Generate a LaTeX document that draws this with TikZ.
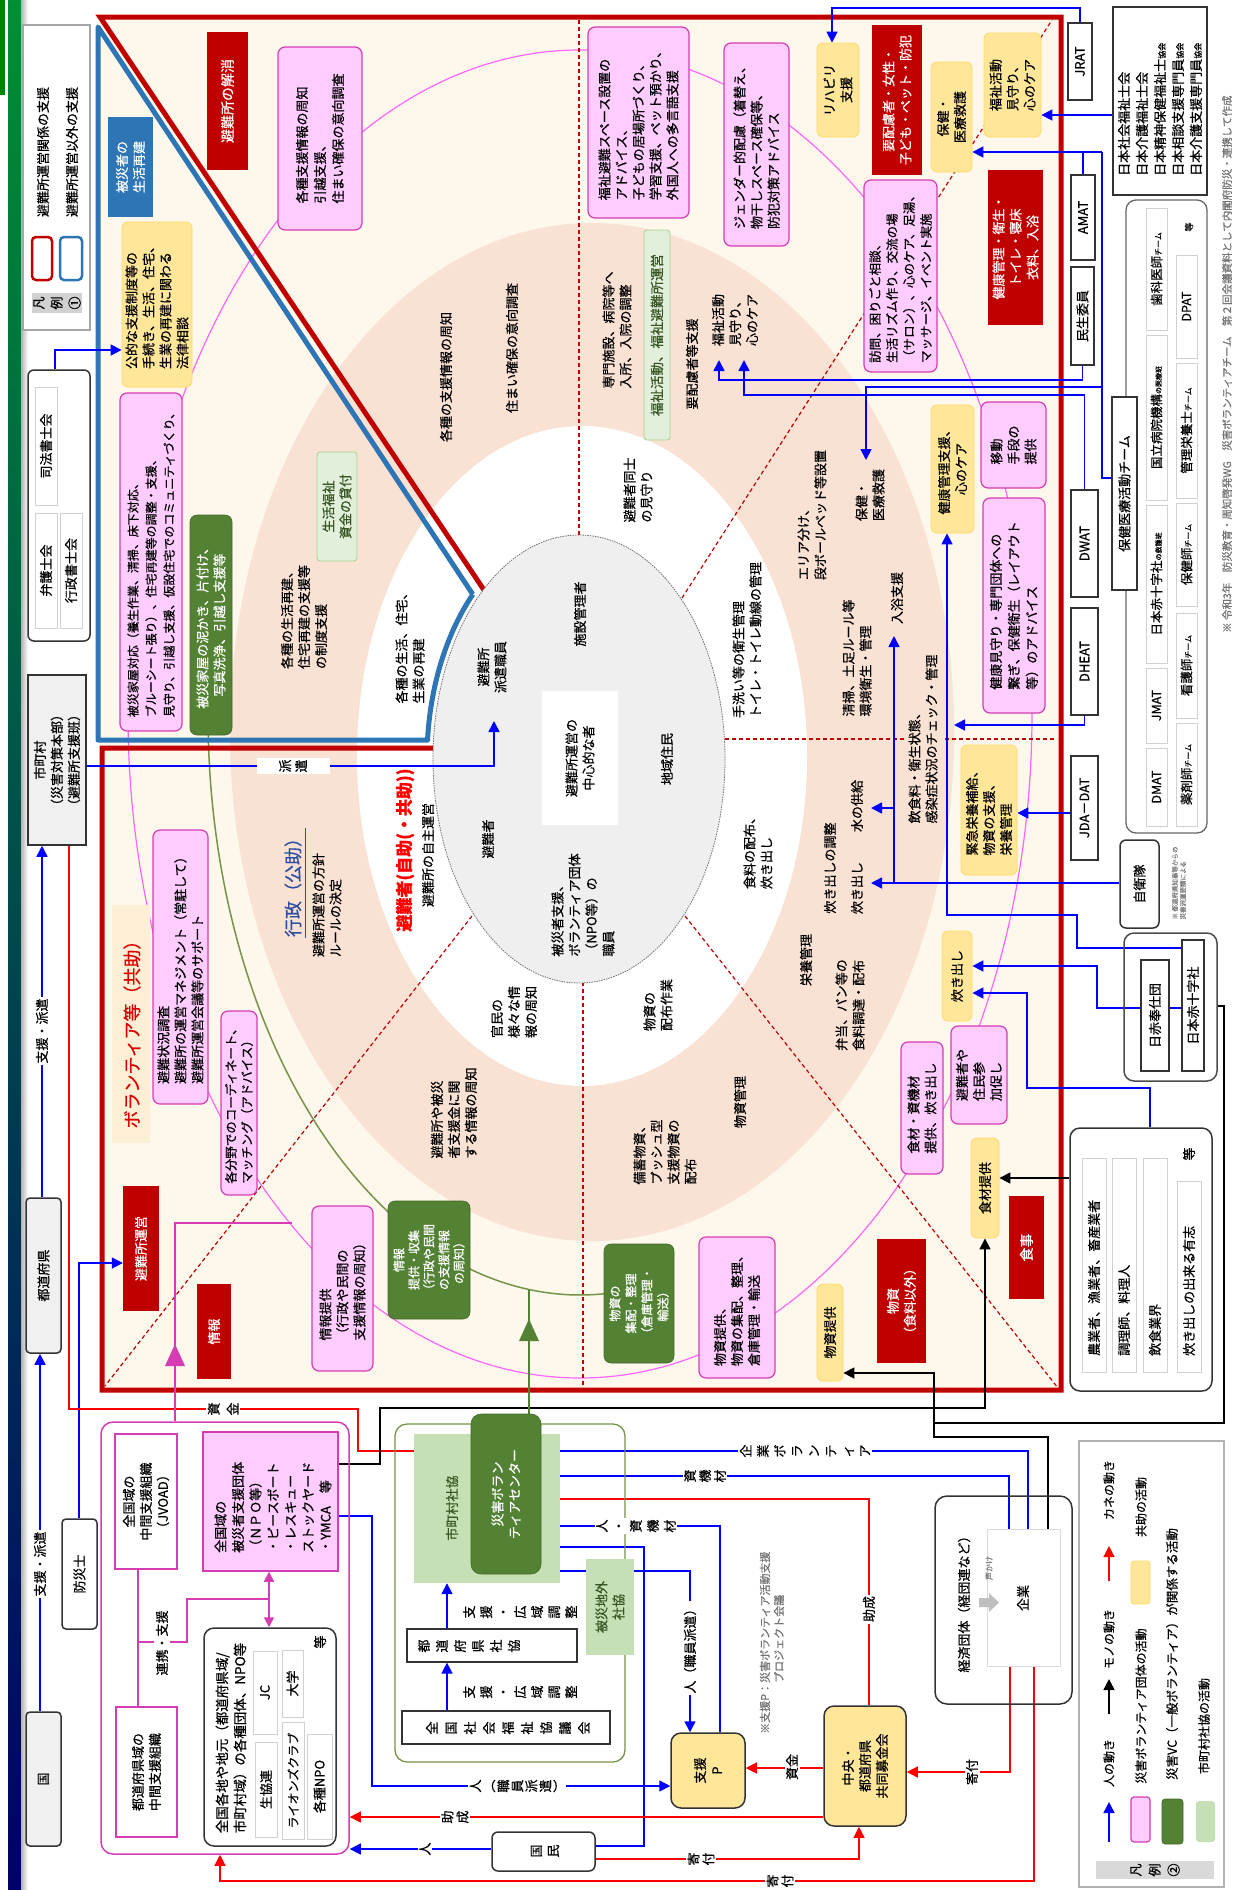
\documentclass[tikz,border=0pt]{standalone}
\usepackage{fontspec}
\setmainfont{Noto Sans CJK JP}[FakeBold=0.6]
\usetikzlibrary{arrows.meta}
\pgfdeclarelayer{bg}
\pgfdeclarelayer{conn}
\pgfsetlayers{bg,conn,main}
\definecolor{cRed}{HTML}{C00000}
\definecolor{cBlue}{HTML}{2E75B6}
\definecolor{cCream}{HTML}{FEF7EB}
\definecolor{cPeach}{HTML}{F9E2D4}
\definecolor{cGrayE}{HTML}{EFEFEF}
\definecolor{cPink}{HTML}{FFCCFF}
\definecolor{cMag}{HTML}{D63CB4}
\definecolor{cYel}{HTML}{FFE699}
\definecolor{cYelD}{HTML}{FFD966}
\definecolor{cDG}{HTML}{548235}
\definecolor{cLG}{HTML}{C5E0B4}
\definecolor{cLGb}{HTML}{E2EFDA}
\definecolor{cLGd}{HTML}{A9D18E}
\definecolor{cDGT}{HTML}{375623}
\definecolor{cPinkLine}{HTML}{FF66FF}
\definecolor{cOlive}{HTML}{76934A}
\definecolor{cGov}{HTML}{2F4FA0}
\definecolor{cLabel}{HTML}{FCEFD6}
\newcommand\fsz[2]{\fontsize{#1}{#2}\selectfont}
% box given by its left, top, right, bottom edges (picture is drawn with text turned by 90 degrees)
\newcommand\bx[7]{\node[#6,minimum width={((#5)-(#3))*1pt},minimum height={((#4)-(#2))*1pt}] (#1) at ({((#2)+(#4))/2},{((#3)+(#5))/2}) {#7};}
\begin{document}
\begin{tikzpicture}[x=1pt,y=-1pt,
  every node/.style={rotate=90,inner sep=0pt,align=center,font=\fsz{13}{17}},
  pinkbox/.style={fill=cPink,draw=cMag,line width=1.2pt,rounded corners=7pt},
  ybox/.style={fill=cYel,draw=cYelD,line width=0.8pt,rounded corners=6pt},
  redbox/.style={fill=cRed,text=white},
  gbox/.style={fill=cDG,draw=cDG!80!black,line width=0.6pt,text=white,rounded corners=7pt},
  lgbox/.style={fill=cLGb,draw=cLGd,line width=0.8pt,rounded corners=3pt,text=cDGT},
  tbox/.style={fill=white,draw=black!80,line width=1.5pt},
  sbox/.style={fill=white,draw=black!18,line width=0.8pt},
  grp/.style={draw=black!80,line width=1.5pt,rounded corners=10pt},
  lab/.style={fill=white,inner sep=1.5pt},
  bl/.style={draw=blue,line width=1.6pt,-{Triangle[length=11pt,width=11pt]}},
  bln/.style={draw=blue,line width=1.6pt},
  rd/.style={draw=red,line width=1.3pt,-{Triangle[length=11pt,width=11pt]}},
  bk/.style={draw=black,line width=1.5pt,-{Triangle[length=11pt,width=11pt]}},
  bkn/.style={draw=black,line width=1.5pt},
  rdash/.style={draw=cRed,line width=1.2pt,dash pattern=on 4pt off 3pt},
]
\useasboundingbox (0,0) rectangle (1235,1890);

%================ background layer: strip, frame, rings ================
\begin{pgfonlayer}{bg}
\fill[white] (0,0) rectangle (1235,1890);
\shade[top color=green!45!black!80!cyan, middle color=cBlue!30!white, bottom color=blue!40!black] (8,0) rectangle (21,1890);
\shade[left color=black!30, right color=white] (21,0) rectangle (28,1890);
\fill[green!50!black] (0,0) rectangle (5,95);

\fill[cCream] (100,17) rectangle (1061,1390);
\fill[cPeach] (592,732) ellipse [x radius=362, y radius=509];
\fill[white] (582,756) ellipse [x radius=225, y radius=330];
\draw[cPinkLine,line width=1.2pt] (580,714) ellipse [x radius=452, y radius=664];
\draw[cOlive,line width=1.5pt] plot[domain=86:180,samples=80,smooth] ({580+372*cos(\x)},{715+580*sin(\x)});

\draw[rdash] (579,20) -- (579,536);
\draw[rdash] (583,982) -- (583,1388);
\draw[rdash] (725,739) -- (905,739);
\draw[rdash] (945,739) -- (1057,739);
\draw[rdash] (682,598) -- (1052,20);
\draw[rdash] (685,916) -- (1058,1388);
\draw[rdash] (472,916) -- (105,1386);

\draw[cRed,line width=5pt,line join=miter] (484,590) -- (100,17) -- (1061,17) -- (1061,1390) -- (102,1390) -- (102,748) -- (434,748);
\draw[cBlue,line width=5pt,line join=round] (472.8,594.4) -- (98,27) -- (98,740) -- (427.5,740) -- plot[domain=184.7:225.7,samples=30] ({579+152*cos(\x)},{759+230*sin(\x)});

\filldraw[fill=cGrayE,draw=black!55,line width=0.8pt,dash pattern=on 1.5pt off 1pt] (579,759) ellipse [x radius=146, y radius=224];
\end{pgfonlayer}

%================ left column ================
\bx{leg1}{23}{25}{90}{330}{draw=black!35,line width=2pt,fill=white}{}
\bx{legl}{32}{293}{82}{313}{fill=black!18,font=\fsz{13}{18}}{凡\\例\\①}
\bx{legr}{32}{237}{52}{280}{draw=cRed,line width=2.5pt,rounded corners=4pt}{}
\bx{legb}{60}{237}{82}{280}{draw=cBlue,line width=2.5pt,rounded corners=4pt}{}
\node (legrt) at (43,152) {避難所運営関係の支援};
\node (legbt) at (72,152) {避難所運営以外の支援};

\bx{shiho}{28}{370}{90}{641}{grp,rounded corners=6pt}{}
\bx{shiho1}{35}{387}{57}{505}{sbox}{司法書士会}
\bx{shiho2}{35}{513}{57}{628}{sbox}{弁護士会}
\bx{shiho3}{60}{513}{82}{628}{sbox}{行政書士会}

\bx{shichoson}{28}{675}{86}{845}{fill=black!6,draw=black!80,line width=1.5pt}{市町村\\（災害対策本部）\\（避難所支援班）}
\bx{todofuken}{26}{1198}{61}{1353}{fill=black!6,draw=black!80,line width=1.5pt,rounded corners=4pt}{都道府県}
\bx{kuni}{26}{1712}{61}{1846}{fill=black!6,draw=black!80,line width=1.5pt,rounded corners=4pt}{国}
\bx{bousaishi}{62}{1519}{97}{1629}{fill=white,draw=black!80,line width=1.5pt,rounded corners=4pt}{防災士}

%================ area outside shelter operation (upper left) ================
\bx{saiken}{108}{117}{153}{217}{fill=cBlue,text=white}{被災者の\\生活再建}
\bx{kouteki}{122}{222}{192}{387}{ybox,align=left}{公的な支援制度等の\\手続き、生活、住宅、\\生業の再建に関わる\\法律相談}
\bx{kaoku}{120}{393}{182}{731}{pinkbox,align=left,font=\fsz{12}{18}}{被災家屋対応（養生作業、清掃、床下対応、\\ブルーシート張り）、住宅再建等の調整・支援、\\見守り、引越し支援、仮設住宅でのコミュニティづくり、}
\bx{doro}{190}{515}{232}{735}{gbox}{被災家屋の泥かき、片付け、\\写真洗浄、引越し支援等}
\bx{fukushishikin}{317}{452}{357}{561}{lgbox}{生活福祉\\資金の貸付}
\node[align=left] (t01) at (304,617) {各種の生活再建、\\住宅再建の支援等\\の制度支援};
\node[align=left] (t02) at (410,645) {各種の生活、住宅、\\生業の再建};

%================ sector: leaving the shelter ================
\bx{kaisho}{207}{32}{248}{170}{redbox,font=\fsz{14}{17}}{避難所の解消}
\bx{shuchi}{278}{47}{362}{230}{pinkbox,align=left,font=\fsz{13}{18}}{各種支援情報の周知\\引越支援、\\住まい確保の意向調査}
\node (t03) at (446,377) {各種の支援情報の周知};
\node (t04) at (512,348) {住まい確保の意向調査};

%================ sector: welfare ================
\bx{fspace}{588}{27}{689}{218}{pinkbox,align=left}{福祉避難スペース設置の\\アドバイス、\\子どもの居場所づくり、\\学習支援、ペット預かり、\\外国人への多言語支援}
\bx{gender}{724}{43}{789}{246}{pinkbox,align=left}{ジェンダー的配慮（着替え、\\物干しスペース確保等、\\防犯対策アドバイス}
\node[align=left] (t05) at (617,330) {専門施設、病院等へ\\入所、入院の調整};
\bx{fukushiunei}{644}{230}{670}{440}{lgbox,font=\fsz{13.5}{17}}{福祉活動、福祉避難所運営}
\node (t06) at (692,364) {要配慮者等支援};
\node[align=left] (t07) at (735,320) {福祉活動\\見守り、\\心のケア};
\node[align=left] (t08) at (638,490) {避難者同士\\の見守り};
\bx{rehab}{817}{43}{859}{137}{ybox}{リハビリ\\支援}
\bx{youhairyo}{872}{25}{922}{175}{redbox}{要配慮者・女性・\\子ども・ペット・防犯}
\bx{hokenY}{931}{62}{972}{172}{ybox}{保健・\\医療救護}
\bx{fkatsudo}{984}{33}{1041}{137}{ybox,align=left}{福祉活動\\見守り、\\心のケア}
\bx{kenkou}{988}{170}{1043}{325}{redbox}{健康管理・衛生・\\トイレ・寝床\\衣料、入浴}
\bx{houmon}{864}{180}{937}{372}{pinkbox,align=left,font=\fsz{12.5}{17}}{訪問、困りごと相談、\\生活リズム作り、交流の場\\（サロン）、心のケア、足湯、\\マッサージ、イベント実施}

%================ sector: health and hygiene ================
\bx{idou}{981}{402}{1046}{488}{pinkbox,align=left}{移動\\手段の\\提供}
\bx{kenkoushien}{931}{405}{974}{533}{ybox}{健康管理支援、\\心のケア}
\node[align=left] (t09) at (870,495) {保健・\\医療救護};
\node[align=left] (t10) at (812,515) {エリア分け、\\段ボールベッド等設置};
\node[align=left] (t11) at (747,640) {手洗い等の衛生管理\\トイレ・トイレ動線の管理};
\node (t12) at (897,598) {入浴支援};
\node[align=left] (t13) at (857,658) {清掃、土足ルール等\\環境衛生・管理};
\bx{mimamori}{983}{498}{1045}{713}{pinkbox,align=left,font=\fsz{13}{18}}{健康見守り・専門団体への\\繋ぎ、保健衛生（レイアウト\\等）のアドバイス}

%================ sector: food ================
\node[align=left] (t14) at (923,739) {飲食料・衛生状態、\\感染症状況のチェック・管理};
\bx{eiyou}{961}{745}{1017}{875}{ybox,align=left}{緊急栄養補給、\\物資の支援、\\栄養管理}
\node (t15) at (857,806) {水の供給};
\node (t16) at (857,888) {炊き出し};
\node (t17) at (830,868) {炊き出しの調整};
\node[align=left] (t18) at (758,850) {食料の配布、\\炊き出し};
\node (t19) at (806,960) {栄養管理};
\node[align=left] (t20) at (850,1005) {弁当、パン等の\\食料調達・配布};
\bx{takidashiY}{942}{931}{972}{1021}{ybox}{炊き出し}
\bx{shokuzaiP}{901}{1042}{943}{1174}{pinkbox,align=left}{食材・資機材\\提供、炊き出し}
\bx{sanka}{951}{1026}{1007}{1124}{pinkbox,align=left}{避難者や\\住民参\\加促し}
\bx{shokuzaiY}{971}{1138}{999}{1238}{ybox}{食材提供}
\bx{shokuji}{1009}{1196}{1044}{1299}{redbox,font=\fsz{14}{17}}{食事}

%================ sector: goods ================
\bx{busshiR}{877}{1239}{926}{1363}{redbox}{物資\\（食料以外）}
\bx{busshiY}{817}{1284}{843}{1381}{ybox}{物資提供}
\bx{busshiP}{699}{1237}{775}{1378}{pinkbox,align=left}{物資提供、\\物資の集配、整理、\\倉庫管理・輸送}
\bx{busshiG}{604}{1244}{674}{1363}{gbox,font=\fsz{12}{16}}{物資の\\集配・整理\\（倉庫管理・\\輸送）}
\node (t21) at (740,1102) {物資管理};
\node[align=left] (t22) at (665,1152) {備蓄物資、\\プッシュ型\\支援物資の\\配布};
\node[align=left] (t23) at (658,1005) {物資の\\配布作業};

%================ sector: information / operation ================
\node[align=left] (t24) at (514,1012) {官民の\\様々な情\\報の周知};
\node[align=left] (t25) at (454,1113) {避難所や被災\\者支援金に関\\する情報の周知};
\bx{johoG}{388}{1201}{470}{1319}{gbox,font=\fsz{12}{15}}{情報\\提供・収集\\（行政や民間\\の支援情報\\の周知）}
\bx{johoP}{312}{1206}{373}{1371}{pinkbox,align=left}{情報提供\\（行政や民間の\\支援情報の周知）}
\bx{joho}{197}{1284}{231}{1379}{redbox}{情報}
\bx{hinanunei}{123}{1186}{159}{1311}{redbox}{避難所運営}
\bx{coord}{221}{1011}{257}{1195}{pinkbox,align=left,font=\fsz{12.5}{16}}{各分野でのコーディネート、\\マッチング（アドバイス）}
\bx{chosa}{153}{830}{208}{1104}{pinkbox,align=left}{避難状況調査\\避難所の運営マネジメント（常駐して）\\避難所運営会議等のサポート}
\bx{kyojobg}{112}{905}{150}{1143}{fill=cLabel}{}
\node[text=red!85!black,font=\fsz{18}{20}] (kyojo) at (132,1030) {ボランティア等（共助）};
\node[text=cGov,font=\fsz{18}{20}] (gyosei) at (293,883) {行政（公助）};
\node[align=left] (t26) at (327,905) {避難所運営の方針\\ルールの決定};
\node[text=red,font=\fsz{17}{19}\bfseries] (jijo) at (405,850) {避難者(自助(・共助))};
\node (t27) at (428,855) {避難所の自主運営};

%================ centre ellipse ================
\node (t28) at (580,614) {施設管理者};
\node (t29) at (492,667) {避難所\\派遣職員};
\bx{chushin}{542}{691}{618}{825}{fill=white}{避難所運営の\\中心的な者}
\node (t30) at (667,759) {地域住民};
\node (t31) at (488,839) {避難者};
\node[align=left] (t32) at (583,905) {被災者支援、\\ボランティア団体\\（NPO等）の\\職員};

%================ right column ================
\bx{jrat}{1068}{23}{1092}{100}{tbox}{JRAT}
\bx{amat}{1071}{175}{1095}{260}{tbox}{AMAT}
\bx{minsei}{1071}{267}{1094}{365}{tbox}{民生委員}
\bx{dwat}{1071}{490}{1098}{597}{tbox}{DWAT}
\bx{dheat}{1071}{608}{1098}{715}{tbox}{DHEAT}
\bx{jdadat}{1071}{756}{1098}{860}{tbox}{JDA－DAT}
\bx{jieitai}{1120}{840}{1159}{928}{tbox,rounded corners=6pt}{自衛隊}
\node[font=\fsz{6.5}{8},text=black!50,align=left] (jieinote) at (1179,883) {※ 都道府県知事等からの\\災害派遣要請による};

\bx{kaigo}{1113}{7}{1207}{195}{draw=black!80,line width=1.5pt}{}
\node[anchor=west,align=left,font=\fsz{13}{18}] (kaigot) at (1160,176) {日本社会福祉士会\\日本介護福祉士会\\日本精神保健福祉士{\fsz{8}{8}協会}\\日本相談支援専門員{\fsz{8}{8}協会}\\日本介護支援専門員{\fsz{8}{8}協会}};

\bx{hgroup}{1126}{200}{1207}{833}{draw=black!60,line width=1.3pt,rounded corners=10pt}{}
\bx{hokenteam}{1112}{397}{1137}{590}{tbox}{保健医療活動チーム}
\begin{scope}[every node/.append style={font=\fsz{12.5}{15}}]
\bx{h1}{1146}{208}{1167}{330}{sbox}{歯科医師{\fsz{8}{8}チーム}}
\bx{h2}{1146}{335}{1167}{500}{sbox}{国立病院機構{\fsz{7}{7}の医療班}}
\bx{h3}{1146}{505}{1167}{663}{sbox}{日本赤十字社{\fsz{7}{7}の救護班}}
\bx{h4}{1146}{668}{1167}{743}{sbox}{JMAT}
\bx{h5}{1146}{748}{1167}{826}{sbox}{DMAT}
\bx{h6}{1176}{255}{1197}{358}{sbox}{DPAT}
\bx{h7}{1176}{363}{1197}{498}{sbox}{管理栄養士{\fsz{8}{8}チーム}}
\bx{h8}{1176}{503}{1197}{606}{sbox}{保健師{\fsz{8}{8}チーム}}
\bx{h9}{1176}{613}{1197}{718}{sbox}{看護師{\fsz{8}{8}チーム}}
\bx{h10}{1176}{723}{1197}{826}{sbox}{薬剤師{\fsz{8}{8}チーム}}
\end{scope}
\node[font=\fsz{9}{9}] (htou) at (1189,227) {等};

\bx{nissekiG}{1124}{933}{1217}{1081}{draw=black!70,line width=1.5pt,rounded corners=10pt}{}
\bx{hoshidan}{1141}{960}{1169}{1071}{tbox}{日赤奉仕団}
\bx{jrc}{1182}{940}{1204}{1071}{tbox}{日本赤十字社}

\bx{shokuzaiG}{1070}{1128}{1212}{1391}{grp}{}
\bx{sg1}{1082}{1158}{1106}{1372}{sbox}{}
\bx{sg2}{1112}{1158}{1136}{1372}{sbox}{}
\bx{sg3}{1143}{1158}{1167}{1372}{sbox}{}
\bx{sg4}{1177}{1181}{1201}{1372}{sbox}{}
\node[anchor=west] (sg1t) at (1094,1356) {農業者、漁業者、畜産業者};
\node[anchor=west] (sg2t) at (1124,1356) {調理師、料理人};
\node[anchor=west] (sg3t) at (1155,1356) {飲食業界};
\node[anchor=west] (sg4t) at (1189,1356) {炊き出しの出来る有志};
\node (sgtou) at (1189,1154) {等};

%================ volunteer organisations (bottom left) ================
\bx{vgroup}{101}{1422}{349}{1854}{draw=cMag,line width=1.5pt,rounded corners=12pt}{}
\bx{jvoad}{115}{1434}{177}{1569}{draw=cMag,line width=1.5pt,fill=white}{全国域の\\中間支援組織\\（JVOAD）}
\bx{todochukan}{116}{1707}{177}{1837}{draw=cMag,line width=1.5pt,fill=white}{都道府県域の\\中間支援組織}
\bx{npo}{203}{1432}{338}{1571}{fill=cPink,draw=cMag,line width=1.5pt}{}
\node[anchor=west,align=left,font=\fsz{13}{17.5}] (npot) at (273,1553) {全国域の\\被災者支援団体\\（ＮＰＯ等）\\・ピースボート\\・レスキュー\\ストックヤード\\・YMCA　等};
\bx{local}{204}{1628}{336}{1846}{grp,fill=white}{}
\node[align=left,font=\fsz{13.5}{18}] (localt) at (231,1738) {全国各地や地元（都道府県域/\\市町村域）の各種団体、NPO等};
\bx{jc}{253}{1651}{277}{1734}{sbox}{JC}
\bx{seikyo}{255}{1742}{277}{1837}{sbox}{生協連}
\bx{daigaku}{282}{1650}{303}{1717}{sbox}{大学}
\bx{lions}{282}{1722}{304}{1839}{sbox,font=\fsz{12}{14}}{ライオンズクラブ}
\bx{knpo}{307}{1734}{332}{1839}{sbox}{各種NPO}
\node (localtou) at (320,1642) {等};

%================ council of social welfare (bottom centre) ================
\bx{sgroup}{395}{1424}{625}{1762}{draw=cOlive,line width=1.3pt,rounded corners=12pt}{}
\bx{lgarea}{414}{1434}{560}{1583}{fill=cLG}{}
\node[text=cDGT] (tshichoson) at (452,1508) {市町村社協};
\bx{vc}{471}{1414}{541}{1574}{gbox,rounded corners=10pt}{災害ボラン\\ティアセンター}
\bx{gaisha}{586}{1559}{634}{1655}{fill=cLG,text=cDGT}{被災地外\\社協}
\bx{tshakyo}{407}{1629}{577}{1662}{tbox,line width=1.2pt}{}
\node[font=\fsz{13}{18}] (tshakyot) at (469,1646) {都\\道\\府\\県\\社\\協};
\bx{zshakyo}{402}{1711}{610}{1744}{tbox,line width=1.2pt}{}
\node[font=\fsz{13}{19}] (zshakyot) at (508,1728) {全\\国\\社\\会\\福\\祉\\協\\議\\会};

\bx{shienp}{671}{1733}{745}{1808}{fill=cYel,draw=black!80,line width=1.5pt,rounded corners=10pt}{支援\\P}
\node[anchor=west,align=left,font=\fsz{11}{14},text=black!55] (pnote) at (772,1734) {※支援P：災害ボランティア活動支援\\\phantom{※支援P：}プロジェクト会議};
\bx{chuo}{824}{1706}{906}{1826}{fill=cYel,draw=black!80,line width=1.5pt,rounded corners=10pt}{中央・\\都道府県\\共同募金会}
\bx{keidan}{935}{1496}{1072}{1704}{grp,rounded corners=12pt}{}
\node (keidant) at (964,1601) {経済団体（経団連など）};
\bx{kigyo}{987}{1529}{1060}{1666}{fill=white,draw=black!15,line width=1pt}{}
\node (kigyot) at (1023,1598) {企業};
\node[font=\fsz{8}{8},text=black!50] (koekake) at (989,1568) {声かけ};
\fill[black!25] (979,1598) -- (989,1598) -- (989,1593) -- (999,1602.5) -- (989,1612) -- (989,1607) -- (979,1607) -- cycle;
\bx{kokumin}{492}{1832}{595}{1871}{grp,rounded corners=6pt,fill=white}{}
\node[font=\fsz{13}{17}] (kokumint) at (545,1851) {国\\民};

%================ legend 2 ================
\bx{leg2}{1079}{1441}{1224}{1887}{draw=black!30,line width=2.5pt}{}
\bx{leg2l}{1096}{1861}{1214}{1879}{fill=black!15,font=\fsz{13}{19}}{凡\\例\\②}
\node[font=\fsz{12}{14}] (lg1) at (1109,1763) {人の動き};
\node[font=\fsz{12}{14}] (lg2) at (1109,1639) {モノの動き};
\node[font=\fsz{12}{14}] (lg3) at (1109,1490) {カネの動き};
\bx{lgp}{1131}{1797}{1150}{1842}{pinkbox,rounded corners=3pt}{}
\node[font=\fsz{12}{14}] (lg4) at (1141,1706) {災害ボランティア団体の活動};
\bx{lgy}{1131}{1561}{1150}{1604}{ybox,rounded corners=3pt}{}
\node[font=\fsz{12}{14}] (lg5) at (1141,1507) {共助の活動};
\bx{lgg}{1162}{1799}{1183}{1844}{gbox,rounded corners=3pt}{}
\node[font=\fsz{12.5}{14}] (lg6) at (1172,1654) {災害VC（一般ボランティア）が関係する活動};
\bx{lglg}{1196}{1801}{1215}{1842}{fill=cLG,rounded corners=3pt}{}
\node[font=\fsz{12}{14}] (lg7) at (1204,1726) {市町村社協の活動};

\node[anchor=west,font=\fsz{10.5}{12},text=black!55] (fnote) at (1227,633) {※ 令和3年　防災教育・周知啓発WG　災害ボランティアチーム　第２回会議資料として内閣府防災・連携して作成};

%================ connectors ================
\begin{pgfonlayer}{conn}
% left column
\draw[bl] (shiho.east -| 55,0) -- (55,350) -- (kouteki.north |- 0,350);
\draw[bl] (shichoson.south |- 0,766) -- (494,766) -- (494,721);
\draw[bl] (todofuken.east -| 42,0) -- (shichoson.west -| 42,0);
\draw[bl] (kuni.east -| 40,0) -- (todofuken.west -| 40,0);
\draw[bl] (bousaishi.east -| 79,0) -- (79,1263) -- (hinanunei.north |- 0,1263);
\draw[rd] (shichoson.west -| 69,0) -- (69,1409) -- (358,1409) -- (358,1451) -- (vc.north |- 0,1451);
\draw[cMag,line width=1.5pt] (vgroup.east -| 175,0) -- (175,1223) -- (292,1223);
\fill[cMag] (175,1344) -- (165,1366) -- (185,1366) -- cycle;
% right column
\draw[bl] (jrat.east) -- (1080,8) -- (832,8) -- (rehab.east -| 832,0);
\draw[bl] (kaigo.north |- 0,115) -- (fkatsudo.south |- 0,115);
\draw[bln] (amat.east) -- (amat.east |- 0,152);
\draw[bl] (1102,152) -- (hokenY.south |- 0,152);
\draw[bln] (hokenteam.north |- 0,478) -- (1102,478) -- (1102,152);
\draw[bl] (1102,387) -- (866,387) -- (866,460);
\draw[bl] (minsei.west) -- (minsei.west |- 0,380) -- (719,380) -- (719,360);
\draw[bl] (dwat.east) -- (dwat.east |- 0,395) -- (744,395) -- (744,360);
\draw[bl] (dheat.west) -- (dheat.west |- 0,725) -- (954,725);
\draw[bl] (jdadat.north |- 0,813) -- (eiyou.south |- 0,813);
\draw[bl] (jieitai.north |- 0,883) -- (871,883);
\draw[bl] (894,883) -- (894,636);
\draw[bl] (894,808) -- (871,808);
\draw[bl] (jrc.north |- 0,948) -- (1077,948) -- (1077,915) -- (947,915) -- (kenkoushien.west -| 947,0);
\draw[bl] (jrc.north |- 0,1008) -- (1097,1008) -- (1097,966) -- (takidashiY.south |- 0,966);
\draw[bl] (shokuzaiG.east -| 1150,0) -- (1150,1088) -- (1027,1088) -- (1027,993) -- (takidashiY.south |- 0,993);
\draw[bk] (shokuzaiG.north |- 0,1178) -- (shokuzaiY.south |- 0,1178);
\draw[bk] (npo.south |- 0,1464) -- (380,1464) -- (380,1408) -- (985,1408) -- (shokuzaiY.west);
\draw[bk] (kigyo.east -| 1048,0) -- (1048,1437) -- (934,1437) -- (934,1373) -- (busshiY.south |- 0,1373);
\draw[bkn] (nissekiG.south |- 0,1006) -- (1224,1006) -- (1224,1423) -- (934,1423);
% bottom
\draw[cDG,line width=1.5pt] (vc.east -| 529,0) -- (529,1290);
\fill[cDG] (529,1319) -- (519,1341) -- (539,1341) -- cycle;
\draw[bl] (kigyo.east -| 1028,0) -- (1028,1451) -- (vc.south |- 0,1451);
\draw[bl] (kigyo.east -| 1009,0) -- (1009,1476) -- (vc.south |- 0,1476);
\draw[rd] (chuo.east -| 869,0) -- (869,1499) -- (vc.south |- 0,1499);
\draw[bl] (shienp.east -| 720,0) -- (720,1526) -- (vc.south |- 0,1526);
\draw[bl] (kokumin.south |- 0,1846) -- (644,1846) -- (644,1547) -- (vc.south |- 0,1547);
\draw[bl] (gaisha.north |- 0,1571) -- (vc.south |- 0,1571);
\draw[bl] (gaisha.south |- 0,1571) -- (690,1571) -- (shienp.east -| 690,0);
\draw[bl] (tshakyo.east -| 447,0) -- (lgarea.west -| 447,0);
\draw[bl] (zshakyo.east -| 447,0) -- (tshakyo.west -| 447,0);
\draw[rd] (chuo.north |- 0,1768) -- (shienp.south |- 0,1768);
\draw[rd] (kigyo.west -| 1010,0) -- (1010,1772) -- (chuo.south |- 0,1772);
\draw[rd] (kokumin.south |- 0,1859) -- (859,1859) -- (chuo.west -| 859,0);
\draw[rd] (kigyo.west -| 1034,0) -- (1034,1881) -- (220,1881) -- (vgroup.west -| 220,0);
\draw[rd] (chuo.north |- 0,1817) -- (vgroup.south |- 0,1817);
\draw[bl] (kokumin.north |- 0,1849) -- (vgroup.south |- 0,1849);
\draw[bl] (npo.south |- 0,1516) -- (372,1516) -- (372,1786) -- (shienp.north |- 0,1786);
\draw[cMag,line width=1.5pt] (jvoad.west -| 138,0) -- (todochukan.east -| 138,0);
\draw[cMag,line width=1.5pt] (138,1642) -- (187,1642) -- (187,1599) -- (269,1599);
\draw[cMag,line width=1.8pt,{Triangle[length=10pt,width=10pt]}-{Triangle[length=10pt,width=10pt]}] (npo.west -| 269,0) -- (local.east -| 269,0);
% legend arrows
\draw[bl] (1109,1842) -- (1109,1802);
\draw[bk] (1109,1714) -- (1109,1679);
\draw[rd] (1109,1581) -- (1109,1546);
\end{pgfonlayer}

%================ connector labels ================
\node[lab,font=\fsz{13}{16},minimum height=73pt] (lhaken) at (293,766) {派\\遣};
\node[lab] (ls1) at (42,1031) {支援・派遣};
\node[lab] (ls2) at (40,1564) {支援・派遣};
\node[lab,font=\fsz{13}{19}] (lshikin) at (223,1409) {資\\金};
\node[lab,font=\fsz{13}{17}] (l1) at (805,1451) {企\\業\\ボ\\ラ\\ン\\テ\\ィ\\ア};
\node[lab,font=\fsz{13}{15}] (l2) at (705,1476) {資\\機\\材};
\node[lab] (l3) at (869,1609) {助成};
\node[lab,font=\fsz{13}{17}] (l4) at (636,1526) {人\\・\\資\\機\\材};
\node[lab] (l5) at (690,1648) {人（職員派遣）};
\node[lab,font=\fsz{13}{17}] (l6) at (520,1612) {支\\援\\・\\広\\域\\調\\整};
\node[lab,font=\fsz{13}{17}] (l7) at (520,1692) {支\\援\\・\\広\\域\\調\\整};
\node[lab] (l8) at (792,1767) {資金};
\node[lab] (l9) at (972,1772) {寄付};
\node[lab,font=\fsz{13}{15}] (l10) at (701,1859) {寄\\付};
\node[lab,font=\fsz{13}{15}] (l11) at (780,1881) {寄\\付};
\node[lab,font=\fsz{13}{15}] (l12) at (455,1817) {助\\成};
\node[lab] (l13) at (425,1849) {人};
\node[lab,font=\fsz{13}{14}] (l14) at (517,1786) {人\\︵\\職\\員\\派\\遣\\︶};
\node[lab] (l15) at (162,1643) {連携・支援};
\draw[cGov,line width=1pt] (305,828) -- (305,938);
\end{tikzpicture}
\end{document}
